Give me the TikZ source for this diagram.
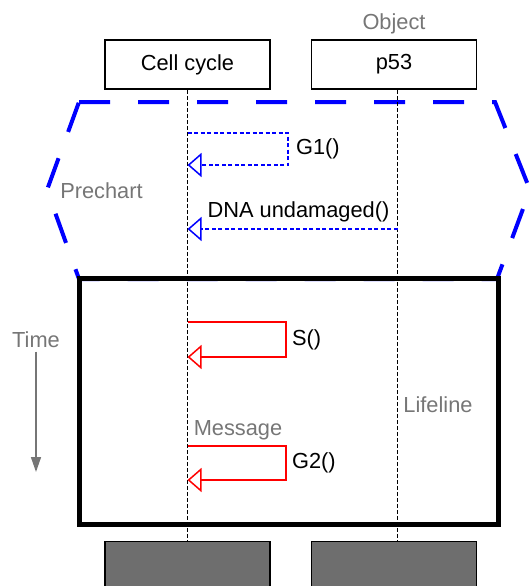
\documentclass[tikz,border=0pt]{standalone}
\usepackage{fontspec}
\setmainfont{Liberation Sans}
\usetikzlibrary{positioning, arrows.meta}

\definecolor{notegray}{RGB}{118,118,118}
\definecolor{endgray}{RGB}{110,110,110}

\begin{document}
\begin{tikzpicture}[x=1pt, y=-1pt]
    % Define styles
    \tikzset{
        every node/.style={font=\fontsize{21.8}{25}\selectfont, text=black},
        object/.style={rectangle, draw, line width=1.5pt, minimum width=165pt, minimum height=49pt, inner sep=0pt},
        objend/.style={object, fill=endgray},
        note/.style={text=notegray},
        lifeline/.style={line width=1pt, dash pattern=on 4pt off 2pt},
        prechart/.style={blue, line width=4pt, dash pattern=on 31pt off 28pt, line join=miter},
        premsg/.style={blue, line width=1.5pt, dash pattern=on 4pt off 2.5pt, -{Triangle[open, length=14pt, width=24pt]}},
        msg/.style={red, line width=1.5pt, -{Triangle[open, length=14pt, width=24pt]}},
        timearrow/.style={notegray, line width=1.5pt, -{Triangle[length=15pt, width=10pt]}}
    }
    \useasboundingbox (0,0) rectangle (531,586);

    % Prechart and main chart
    \draw [prechart] (79,102) -- (495,102) -- (530,190) -- (497,279) -- (79,279) -- (47,190) -- cycle;
    \draw [line width=5pt] (79,278) rectangle (498,524);

    % Objects and their ends
    \node (cc) [object] at (187.5,64.5) {Cell cycle};
    \node (p53) [object, right=40pt of cc] {p53};
    \node (ccend) [objend, below=451pt of cc] {};
    \node (p53end) [objend, below=451pt of p53] {};
    \node (objlbl) [note, above=2pt of p53] {Object};

    % Lifelines
    \draw [lifeline] (cc) -- (ccend);
    \draw [lifeline] ([xshift=3.5pt]p53.south) -- ([xshift=3.5pt]p53end.north);

    % Points on the lifelines
    \coordinate (g1out) at (cc.south |- 0,133);
    \coordinate (g1in) at (cc.south |- 0,165);
    \coordinate (dnaout) at ([xshift=3.5pt]p53.south |- 0,229);
    \coordinate (dnain) at (cc.south |- 0,229);
    \coordinate (sout) at (cc.south |- 0,322);
    \coordinate (sin) at (cc.south |- 0,357);
    \coordinate (g2out) at (cc.south |- 0,446);
    \coordinate (g2in) at (cc.south |- 0,480);

    % Prechart messages
    \draw [premsg] (g1out) -- (288,133) -- node[right, xshift=4pt] {G1()} (288,165) -- (g1in);
    \draw [premsg] (dnaout) -- node[above=3pt, xshift=6pt] {DNA undamaged()} (dnain);

    % Main chart messages
    \draw [msg] (sout) -- (286,322) -- node[right, xshift=2pt] {S()} (286,357) -- (sin);
    \draw [msg] (g2out) -- (286,446) -- node[right, xshift=2pt] {G2()} (286,480) -- (g2in);

    % Notes
    \node (prelbl) [note] at (101.5,191) {Prechart};
    \node (msglbl) [note] at (238,430) {Message};
    \node (lifelbl) [note] at (438,405) {Lifeline};
    \node (timelbl) [note] at (36,340) {Time};
    \coordinate (timeend) at (36,472);
    \draw [timearrow] (timelbl) -- (timeend);

\end{tikzpicture}
\end{document}
